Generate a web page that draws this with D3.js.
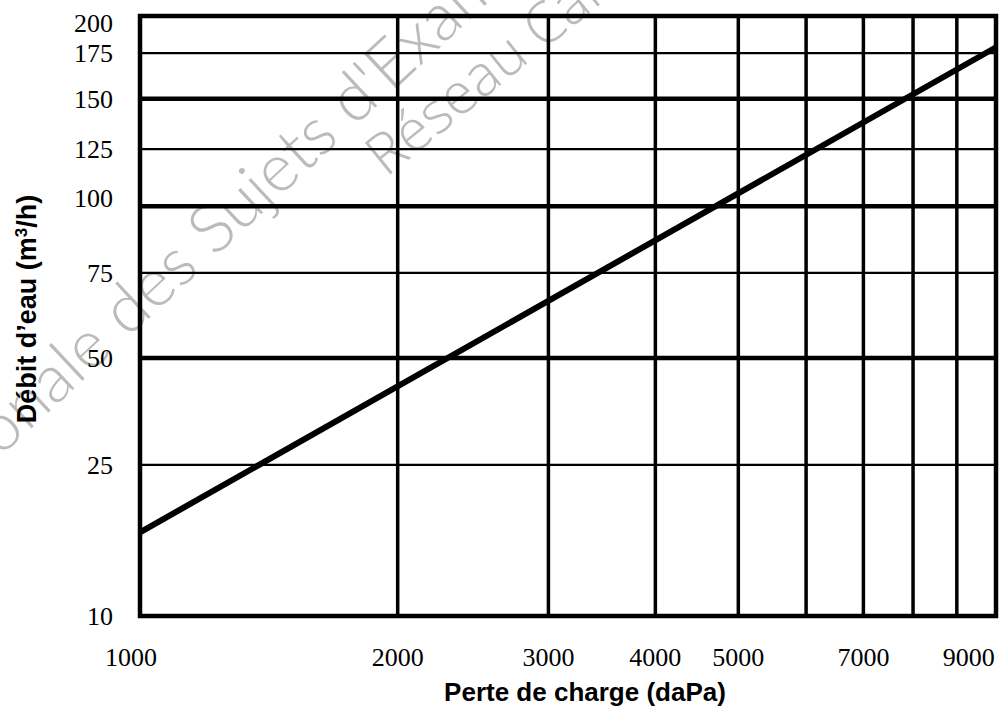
<!DOCTYPE html>
<html>
<head>
<meta charset="utf-8">
<script src="https://cdn.jsdelivr.net/npm/d3@7"></script>
<style>
  body { margin: 0; background: #fff; }
  svg { display: block; }
  .num { font-family: "Liberation Serif", "Times New Roman", serif; font-size: 26px; fill: #000; }
  .title { font-family: "Liberation Sans", Arial, sans-serif; font-weight: bold; font-size: 26px; fill: #000; }
  .wm { font-family: "Lato", "DejaVu Sans", sans-serif; font-weight: 300; font-size: 67px; fill: #bbbbbb; }
  .wm2 { font-family: "Open Sans", "DejaVu Sans", sans-serif; font-weight: 300; font-size: 57px; fill: #bbbbbb; }
</style>
</head>
<body>
<svg width="1005" height="708"></svg>
<script>
// pressure drop (daPa) on a log axis
var xGrid = [1000, 2000, 3000, 4000, 5000, 6000, 7000, 8000, 9000, 10000];
var xLabels = [1000, 2000, 3000, 4000, 5000, 7000, 9000];

// water flow (m3/h), the paper's own uneven ruling
var yGrid = [10, 25, 50, 75, 100, 125, 150, 175, 200];
var yBold = [50, 100, 150];

// the drawn characteristic
var lossPoints = [1000, 10000];
var flowPoints = [18.3, 179];

var svg = d3.select("svg");
var margin = {left: 140, top: 16, right: 9, bottom: 92};
var width = +svg.attr("width") - margin.left - margin.right;
var height = +svg.attr("height") - margin.top - margin.bottom;

var x = d3.scaleLog()
    .domain([1000, 10000])
    .range([margin.left, margin.left + width]);

// spacing of the ruled lines, as a share of the plot height, bottom to top
var ySpacing = [0, 0.252, 0.43, 0.572, 0.683, 0.778, 0.862, 0.938, 1];
var y = d3.scaleLinear()
    .domain(yGrid)
    .range(ySpacing.map(function(f) { return margin.top + height * (1 - f); }));

// watermark
svg.append("text")
    .attr("class", "wm")
    .attr("transform", "translate(-262,702) rotate(-43)")
    .text("Banque Nationale des Sujets d'Examens");
svg.append("text")
    .attr("class", "wm2")
    .attr("transform", "translate(386,178) rotate(-39)")
    .text("R\u00e9seau Canop\u00e9");

var g = svg.append("g");

g.selectAll(".vline")
    .data(xGrid.slice(1, -1))
    .enter().append("line")
    .attr("class", "vline")
    .attr("x1", function(d) { return x(d); })
    .attr("x2", function(d) { return x(d); })
    .attr("y1", y(200))
    .attr("y2", y(10))
    .attr("stroke", "#000")
    .attr("stroke-width", 3.5);

g.selectAll(".hline")
    .data(yGrid.slice(1, -1))
    .enter().append("line")
    .attr("class", "hline")
    .attr("x1", x(1000))
    .attr("x2", x(10000))
    .attr("y1", function(d) { return y(d); })
    .attr("y2", function(d) { return y(d); })
    .attr("stroke", "#000")
    .attr("stroke-width", function(d) { return yBold.indexOf(d) >= 0 ? 4.5 : 2.3; });

// frame
g.append("rect")
    .attr("x", x(1000))
    .attr("y", y(200))
    .attr("width", x(10000) - x(1000))
    .attr("height", y(10) - y(200))
    .attr("fill", "none")
    .attr("stroke", "#000")
    .attr("stroke-width", 4.5);

var line = d3.line()
    .x(function(d) { return x(d[0]); })
    .y(function(d) { return y(d[1]); });

g.append("path")
    .datum(d3.zip(lossPoints, flowPoints))
    .attr("d", line)
    .attr("fill", "none")
    .attr("stroke", "#000")
    .attr("stroke-width", 6);

// tick labels
svg.selectAll(".xlab")
    .data(xLabels)
    .enter().append("text")
    .attr("class", "num")
    .attr("x", function(d) { return x(d) + (d == 1000 ? -9 : d == 9000 ? 12 : 0); })
    .attr("y", 666)
    .attr("text-anchor", "middle")
    .text(function(d) { return d; });

svg.selectAll(".ylab")
    .data(yGrid)
    .enter().append("text")
    .attr("class", "num")
    .attr("x", 113)
    .attr("y", function(d) { return y(d) + (d == 200 ? 7 : d == 100 ? -8 : 0); })
    .attr("dy", "0.35em")
    .attr("text-anchor", "end")
    .text(function(d) { return d; });

// axis titles
svg.append("text")
    .attr("class", "title")
    .attr("x", 585)
    .attr("y", 701)
    .attr("text-anchor", "middle")
    .text("Perte de charge (daPa)");

var yt = svg.append("text")
    .attr("class", "title")
    .attr("transform", "translate(36,309) rotate(-90)")
    .attr("text-anchor", "middle")
    .style("font-size", "27px");
yt.append("tspan").text("Débit d’eau (m");
yt.append("tspan").attr("baseline-shift", "super").style("font-size", "17px").text("3");
yt.append("tspan").text("/h)");
</script>
</body>
</html>
